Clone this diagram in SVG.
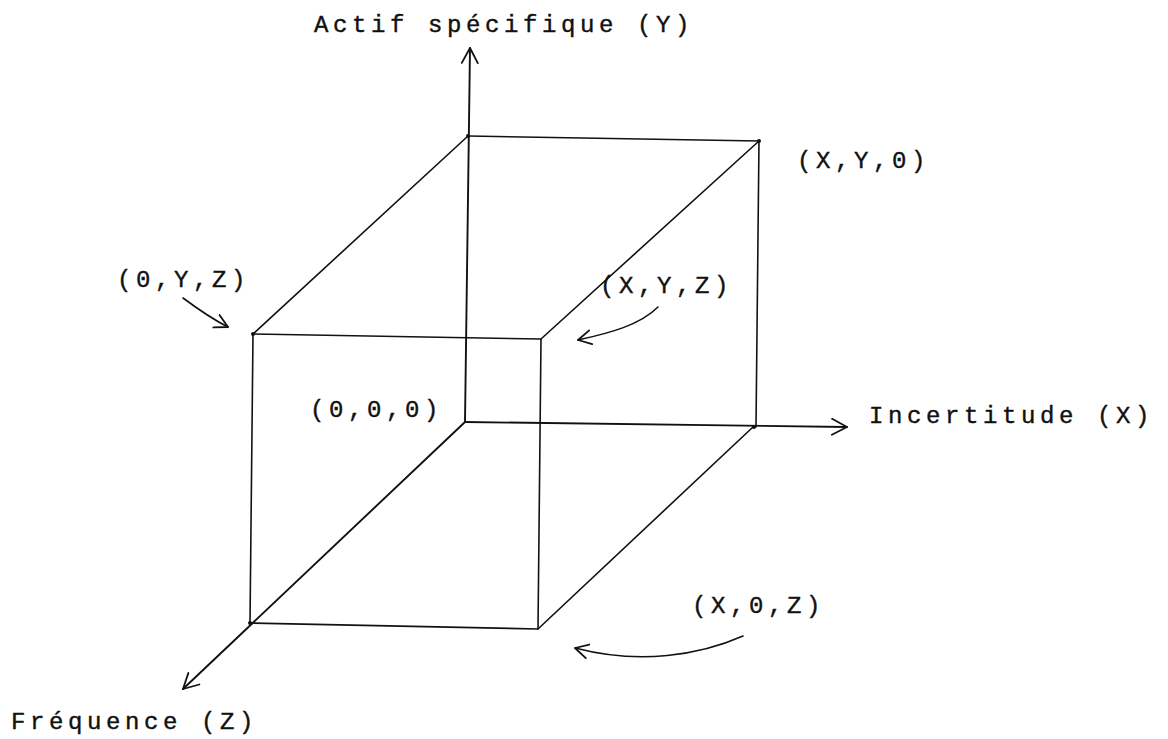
<svg xmlns="http://www.w3.org/2000/svg" width="1168" height="739" viewBox="0 0 1168 739">
<style>
.ln{fill:none;stroke:#111;stroke-width:1.6;stroke-linecap:round;stroke-linejoin:round}
.ax{fill:none;stroke:#111;stroke-width:1.9;stroke-linecap:round}
.lbl{font-family:"Liberation Mono","Courier New",monospace;font-size:24px;letter-spacing:4.6px;fill:#111;stroke:#111;stroke-width:0.4}
.dot{fill:#111}
</style>
<defs>
<marker id="ah" markerUnits="userSpaceOnUse" markerWidth="20" markerHeight="20" refX="16" refY="9" orient="auto">
<path d="M1,1 L16,9 L1,17" fill="none" stroke="#111" stroke-width="1.8" stroke-linecap="round" stroke-linejoin="round"/>
</marker>
<marker id="ahs" markerUnits="userSpaceOnUse" markerWidth="18" markerHeight="18" refX="14" refY="8" orient="auto">
<path d="M1,1 L14,8 L1,15" fill="none" stroke="#111" stroke-width="1.8" stroke-linecap="round" stroke-linejoin="round"/>
</marker>
</defs>
<rect width="1168" height="739" fill="#fff"/>
<g id="connectors">
<g id="axes">
<line class="ax" x1="465" y1="422" x2="470" y2="48" marker-end="url(#ah)"/>
<line class="ax" x1="465" y1="422" x2="847" y2="427" marker-end="url(#ah)"/>
<line class="ax" x1="465" y1="422" x2="183" y2="689" marker-end="url(#ah)"/>
</g>
<g id="box">
<path class="ln" d="M253,334 L541,339 L538,629 L250,623 Z"/>
<path class="ln" d="M468,136 L759,141 L756,427"/>
<line class="ln" x1="253" y1="334" x2="468" y2="136"/>
<line class="ln" x1="541" y1="339" x2="759" y2="141"/>
<line class="ln" x1="538" y1="629" x2="753" y2="427"/>
<circle class="dot" cx="468" cy="136" r="2"/>
<circle class="dot" cx="759" cy="141" r="2"/>
<circle class="dot" cx="253" cy="334" r="2"/>
<circle class="dot" cx="250" cy="623" r="2"/>
<circle class="dot" cx="754" cy="427" r="2"/>
</g>
<g id="callouts">
<path class="ln" d="M183,298 Q210,318 228,327" marker-end="url(#ahs)"/>
<path class="ln" d="M658,307 C640,325 610,333 578,340" marker-end="url(#ahs)"/>
<path class="ln" d="M743,636 C700,655 640,665 575,648" marker-end="url(#ahs)"/>
</g>
</g>
<g id="label-y"><text class="lbl" x="314" y="32">Actif spécifique (Y)</text></g>
<g id="label-x"><text class="lbl" x="869" y="423">Incertitude (X)</text></g>
<g id="label-z"><text class="lbl" x="11" y="729">Fréquence (Z)</text></g>
<g id="pt-xy0"><text class="lbl" x="797" y="168">(X,Y,0)</text></g>
<g id="pt-xyz"><text class="lbl" x="600" y="293">(X,Y,Z)</text></g>
<g id="pt-0yz"><text class="lbl" x="117" y="287">(0,Y,Z)</text></g>
<g id="pt-000"><text class="lbl" x="310" y="417">(0,0,0)</text></g>
<g id="pt-x0z"><text class="lbl" x="692" y="613">(X,0,Z)</text></g>
</svg>
